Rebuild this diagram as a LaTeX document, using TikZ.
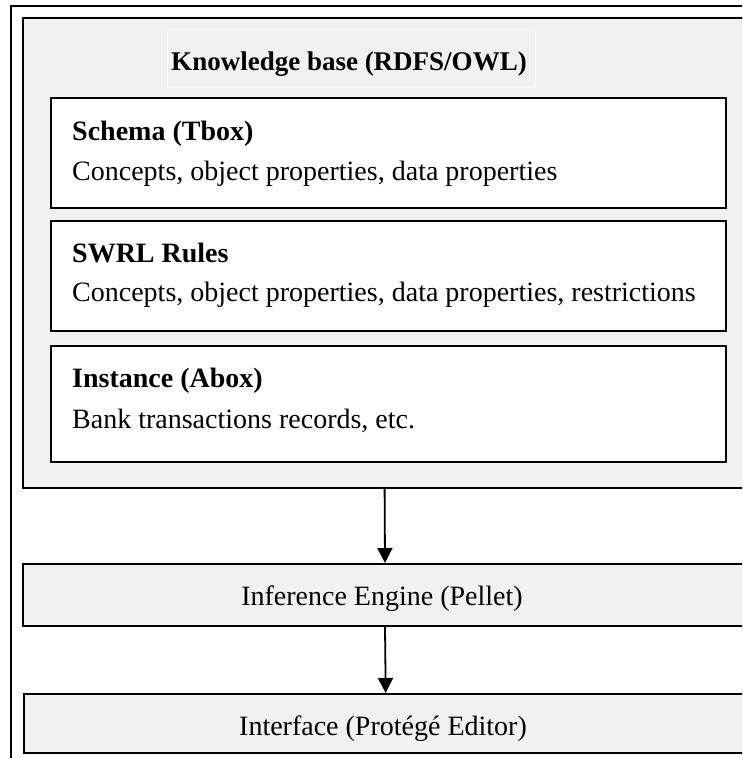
\documentclass[tikz,border=0pt]{standalone}
\usepackage{fontspec}
\setmainfont{Liberation Serif}
\usetikzlibrary{arrows.meta}
\definecolor{kbgray}{RGB}{241,241,241}

\begin{document}
\begin{tikzpicture}[x=1pt, y=-1pt,
    kbframe/.style={draw, line width=1.8pt, fill=kbgray, anchor=north west, inner sep=0pt},
    titlebox/.style={draw=white, line width=1pt, fill=kbgray, minimum width=368pt, minimum height=57pt, inner sep=0pt},
    layerbox/.style={draw, line width=2pt, fill=white, anchor=north west, minimum width=675pt, inner sep=0pt},
    stagebox/.style={draw, line width=2pt, fill=kbgray, anchor=north west, minimum width=724pt, inner sep=0pt},
    headtxt/.style={anchor=base west, inner sep=0pt, font=\fontsize{28}{33}\selectfont\bfseries},
    desctxt/.style={anchor=base west, inner sep=0pt, font=\fontsize{28}{33}\selectfont},
    stagetxt/.style={anchor=base, inner sep=0pt, font=\fontsize{28}{33}\selectfont},
    flowarrow/.style={line width=1.8pt, -{Triangle[length=15pt, width=15pt]}}
  ]
  \useasboundingbox (0,0) rectangle (742,758);
  \clip (0,0) rectangle (742,758);

  % outer frame
  \draw[line width=2.2pt] (11,760) -- (11,6) -- (746,6);

  % knowledge base
  \node[kbframe, minimum width=724pt, minimum height=470pt] (kb) at (21.7,17) {};
  \node[titlebox] (kbtitle) at (351,58.5) {};
  \node[headtxt, anchor=base, font=\fontsize{27}{32}\selectfont\bfseries] (kbtitletxt) at (349,70.5) {Knowledge base (RDFS/OWL)};

  \node[layerbox, minimum height=110pt] (schema) at (50,97) {};
  \node[headtxt] (schemahead) at (72,140) {Schema (Tbox)};
  \node[desctxt] (schemadesc) at (72,180) {Concepts, object properties, data properties};

  \node[layerbox, minimum height=110pt] (swrl) at (50,220) {};
  \node[headtxt] (swrlhead) at (72,262) {SWRL Rules};
  \node[desctxt] (swrldesc) at (72,301) {Concepts, object properties, data properties, restrictions};

  \node[layerbox, minimum height=116pt] (abox) at (50,345) {};
  \node[headtxt] (aboxhead) at (72,387) {Instance (Abox)};
  \node[desctxt] (aboxdesc) at (72,428) {Bank transactions records, etc.};

  % reasoner and editor
  \node[stagebox, minimum height=62pt] (infer) at (22,563) {};
  \node[stagetxt] (infertxt) at (382,605) {Inference Engine (Pellet)};

  \node[stagebox, minimum height=59pt] (iface) at (22.7,693) {};
  \node[stagetxt] (ifacetxt) at (383,735) {Interface (Protégé Editor)};

  \draw[flowarrow] (kb.south) -- (infer.north);
  \draw[flowarrow] (infer.south) -- (iface.north);
\end{tikzpicture}
\end{document}
